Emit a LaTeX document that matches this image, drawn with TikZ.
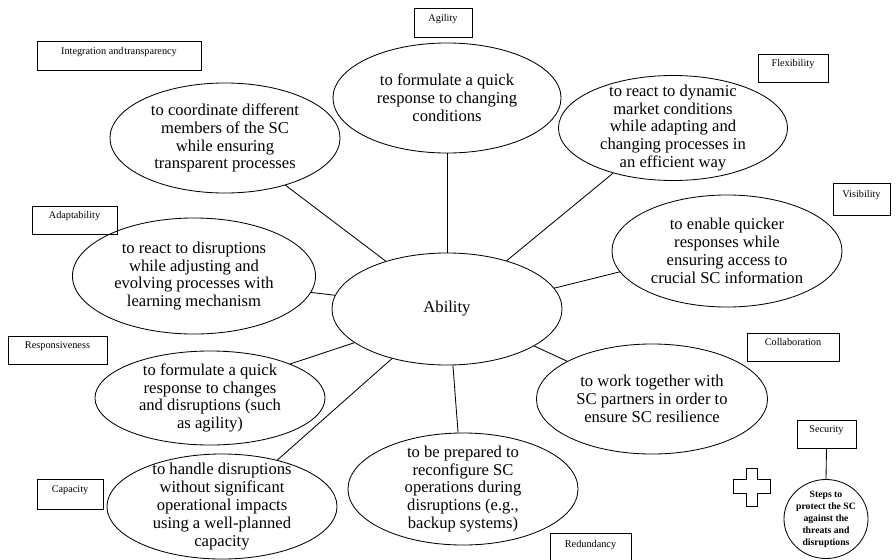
\documentclass[tikz,border=0pt]{standalone}
\usepackage{fontspec}
\setmainfont{Liberation Serif}
\usetikzlibrary{shapes.geometric}
\tikzset{
  ell/.style={draw, ellipse, align=center, inner xsep=0pt, inner ysep=-22pt,
    font=\fontsize{11.8}{12.7}\selectfont, line width=0.6pt},
  lab/.style={draw, rectangle, inner sep=0pt, line width=0.6pt,
    font=\fontsize{7.3}{8}\selectfont, text height=4.5pt, text depth=6.5pt},
  conn/.style={draw, line width=0.6pt},
}
\begin{document}
\begin{tikzpicture}[x=0.025cm, y=-0.025cm]
\useasboundingbox (0,0) rectangle (896,560);
\begin{scope}
\clip (0,0) rectangle (896,560);
% ellipses
\node[ell, minimum width=230*0.7113pt, minimum height=112*0.7113pt] (abil) at (447,309) {Ability};
\node[ell, minimum width=228*0.7113pt, minimum height=110*0.7113pt] (agil) at (447,98)
  {to formulate a quick\\response to changing\\conditions};
\node[ell, minimum width=230*0.7113pt, minimum height=110*0.7113pt] (integ) at (225,138)
  {to coordinate different\\members of the SC\\while ensuring\\transparent processes};
\node[ell, minimum width=229*0.7113pt, minimum height=105*0.7113pt] (flex) at (673,128)
  {to react to dynamic\\market conditions\\while adapting and\\changing processes in\\an efficient way};
\node[ell, minimum width=230*0.7113pt, minimum height=112*0.7113pt] (visi) at (727,251)
  {to enable quicker\\responses while\\ensuring access to\\crucial SC information};
\node[ell, minimum width=231*0.7113pt, minimum height=110*0.7113pt] (coll) at (652,399)
  {to work together with\\SC partners in order to\\ensure SC resilience};
\node[ell, minimum width=230*0.7113pt, minimum height=112*0.7113pt] (redu) at (463,489)
  {to be prepared to\\reconfigure SC\\operations during\\disruptions (e.g.,\\backup systems)};
\node[ell, minimum width=230*0.7113pt, minimum height=105*0.7113pt] (capa) at (222,506.5)
  {to handle disruptions\\without significant\\operational impacts\\using a well-planned\\capacity};
\node[ell, minimum width=230*0.7113pt, minimum height=94*0.7113pt] (resp) at (210,398)
  {to formulate a quick\\response to changes\\and disruptions (such\\as agility)};
\node[ell, minimum width=243*0.7113pt, minimum height=116*0.7113pt] (adap) at (194,276)
  {to react to disruptions\\while adjusting and\\evolving processes with\\learning mechanism};
% label boxes
\node[lab, minimum width=58*0.7113pt, minimum height=29*0.7113pt] (lagil) at (443,22.5) {Agility};
\node[lab, minimum width=164*0.7113pt, minimum height=29*0.7113pt] (linteg) at (119,55.5) {Integration and\hspace{0.6pt}transparency};
\node[lab, minimum width=70*0.7113pt, minimum height=28*0.7113pt] (lflex) at (793,68) {Flexibility};
\node[lab, minimum width=57*0.7113pt, minimum height=32*0.7113pt] (lvisi) at (861.5,199) {Visibility};
\node[lab, minimum width=92*0.7113pt, minimum height=28*0.7113pt] (lcoll) at (793,347) {Collaboration};
\node[lab, minimum width=85*0.7113pt, minimum height=28*0.7113pt] (ladap) at (74.5,220) {Adaptability};
\node[lab, minimum width=99*0.7113pt, minimum height=28*0.7113pt] (lresp) at (57.5,350) {Responsiveness};
\node[lab, minimum width=66*0.7113pt, minimum height=30*0.7113pt] (lcapa) at (70,494) {Capacity};
\node[draw, rectangle, line width=0.6pt, minimum width=81*0.7113pt, minimum height=44*0.7113pt] (lredu) at (590.5,555) {};
\node[font=\fontsize{7.3}{8}\selectfont] (lredutext) at (590.5,545) {Redundancy};
\node[lab, minimum width=59*0.7113pt, minimum height=28*0.7113pt] (lsecu) at (826.5,434) {Security};
\node[draw, ellipse, line width=0.6pt, inner sep=-8pt, minimum width=84*0.7113pt, minimum height=79*0.7113pt,
  align=center, font=\bfseries\fontsize{6.9}{8.5}\selectfont] (secu) at (826,519)
  {Steps to\\protect the SC\\against the\\threats and\\disruptions};
% connectors
\draw[conn] (abil.142.8) -- (integ.-38.4);
\draw[conn] (abil.90) -- (agil.-90);
\draw[conn] (abil.39.6) -- (flex.-143.7);
\draw[conn] (abil.11.8) -- (visi.191.5);
\draw[conn] (abil.-23.5) -- (coll.156.2);
\draw[conn] (abil.-84.9) -- (redu.95.1);
\draw[conn] (abil.-138.9) -- (capa.40.5);
\draw[conn] (abil.200.3) -- (resp.23.8);
\draw[conn] (abil.173.4) -- (adap.-8.1);
\draw[conn] (lsecu.south) -- (secu.north);
% plus sign
\draw[line width=0.6pt] (746,468) -- (757,468) -- (757,479) -- (770,479) -- (770,493) -- (757,493)
  -- (757,506) -- (746,506) -- (746,493) -- (733,493) -- (733,479) -- (746,479) -- cycle;
\end{scope}
\end{tikzpicture}
\end{document}
